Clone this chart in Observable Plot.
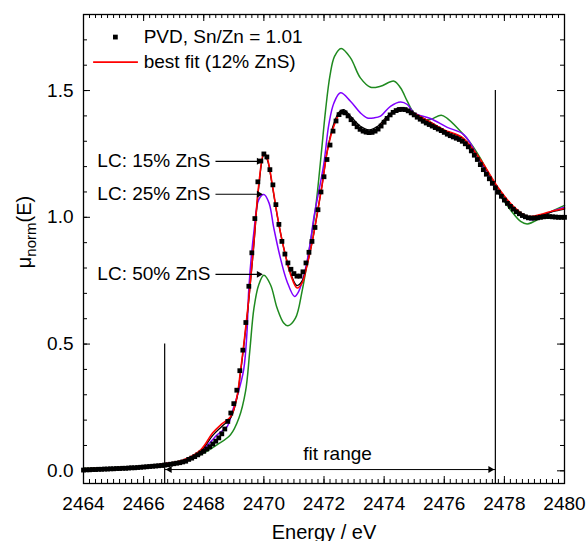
<!DOCTYPE html>
<html><head><meta charset="utf-8">
<script src="https://cdn.jsdelivr.net/npm/d3@7"></script>
<script src="https://cdn.jsdelivr.net/npm/@observablehq/plot@0.6"></script>
<style>body{margin:0;background:#fff;}</style>
</head><body><div id="chart"></div>
<script>
// ---- measured data (PVD, Sn/Zn = 1.01) ----
const pvdEnergy = [
2464.0,2464.1,2464.2,2464.3,2464.4,2464.5,2464.6,2464.7,2464.8,2464.9,
2465.0,2465.1,2465.2,2465.3,2465.4,2465.5,2465.6,2465.7,2465.8,2465.9,
2466.0,2466.1,2466.2,2466.3,2466.4,2466.5,2466.6,2466.7,2466.8,2466.9,
2467.0,2467.1,2467.2,2467.3,2467.4,2467.5,2467.6,2467.7,2467.8,2467.9,
2468.0,2468.1,2468.2,2468.3,2468.4,2468.5,2468.6,2468.7,2468.8,2468.9,
2469.0,2469.1,2469.2,2469.3,2469.4,2469.5,2469.6,2469.7,2469.8,2469.9,
2470.0,2470.1,2470.2,2470.3,2470.4,2470.5,2470.6,2470.7,2470.8,2470.9,
2471.0,2471.1,2471.2,2471.3,2471.4,2471.5,2471.6,2471.7,2471.8,2471.9,
2472.0,2472.1,2472.2,2472.3,2472.4,2472.5,2472.6,2472.7,2472.8,2472.9,
2473.0,2473.1,2473.2,2473.3,2473.4,2473.5,2473.6,2473.7,2473.8,2473.9,
2474.0,2474.1,2474.2,2474.3,2474.4,2474.5,2474.6,2474.7,2474.8,2474.9,
2475.0,2475.1,2475.2,2475.3,2475.4,2475.5,2475.6,2475.7,2475.8,2475.9,
2476.0,2476.1,2476.2,2476.3,2476.4,2476.5,2476.6,2476.7,2476.8,2476.9,
2477.0,2477.1,2477.2,2477.3,2477.4,2477.5,2477.6,2477.7,2477.8,2477.9,
2478.0,2478.1,2478.2,2478.3,2478.4,2478.5,2478.6,2478.7,2478.8,2478.9,
2479.0,2479.1,2479.2,2479.3,2479.4,2479.5,2479.6,2479.7,2479.8,2479.9,
2480.0];
const pvdMu = [
0.003,0.004,0.004,0.005,0.005,0.006,0.006,0.007,0.007,0.008,
0.008,0.009,0.009,0.010,0.010,0.011,0.012,0.012,0.013,0.014,
0.015,0.016,0.017,0.018,0.019,0.020,0.021,0.023,0.024,0.026,
0.028,0.030,0.032,0.035,0.038,0.045,0.050,0.056,0.063,0.070,
0.077,0.086,0.095,0.106,0.117,0.130,0.146,0.165,0.195,0.228,
0.265,0.318,0.395,0.476,0.585,0.728,0.860,0.995,1.140,1.222,
1.250,1.238,1.188,1.128,1.050,0.972,0.905,0.855,0.820,0.795,
0.778,0.768,0.768,0.785,0.820,0.862,0.905,0.960,1.030,1.100,
1.160,1.228,1.285,1.340,1.380,1.405,1.415,1.412,1.400,1.385,
1.370,1.357,1.347,1.340,1.336,1.334,1.335,1.340,1.348,1.360,
1.375,1.390,1.404,1.414,1.421,1.425,1.426,1.425,1.420,1.412,
1.404,1.395,1.387,1.379,1.372,1.366,1.360,1.354,1.348,1.342,
1.335,1.328,1.322,1.317,1.312,1.307,1.300,1.290,1.278,1.262,
1.245,1.228,1.208,1.188,1.170,1.152,1.134,1.116,1.099,1.083,
1.068,1.055,1.043,1.032,1.022,1.014,1.007,1.002,0.998,0.997,
0.997,0.998,1.000,1.002,1.003,1.003,1.002,1.001,1.000,1.000,
1.000];

// ---- best fit (12% ZnS) ----
const fitEnergy = [2464.0,2465.0,2466.0,2466.7,2467.3,2467.9,2468.3,2468.6,2468.9,2469.1,2469.22,2469.33,2469.5,2469.67,2469.83,2470.0,2470.11,2470.28,2470.44,2470.66,2470.89,2471.11,2471.27,2471.44,2471.61,2471.77,2471.94,2472.11,2472.3,2472.5,2472.65,2472.9,2473.2,2473.5,2473.8,2474.1,2474.5,2474.7,2475.0,2475.5,2476.0,2476.6,2477.2,2477.8,2478.3,2478.76,2479.2,2479.6,2480.0];
const fitMu     = [0.008,0.012,0.018,0.028,0.042,0.083,0.150,0.185,0.215,0.290,0.392,0.497,0.681,0.905,1.129,1.254,1.234,1.129,1.011,0.879,0.774,0.721,0.741,0.813,0.905,1.011,1.129,1.261,1.350,1.405,1.415,1.385,1.347,1.334,1.350,1.392,1.430,1.428,1.410,1.378,1.345,1.315,1.228,1.116,1.043,1.004,1.011,1.025,1.035];

// ---- linear combinations ----
const lc15Energy = [2464.0,2465.0,2466.0,2466.7,2467.3,2467.9,2468.3,2468.6,2468.9,2469.1,2469.22,2469.33,2469.5,2469.67,2469.83,2470.0,2470.11,2470.28,2470.44,2470.66,2470.89,2471.1,2471.27,2471.44,2471.61,2471.77,2471.94,2472.11,2472.3,2472.5,2472.65,2472.9,2473.2,2473.5,2473.8,2474.1,2474.5,2474.7,2475.0,2475.5,2476.0,2476.6,2477.2,2477.8,2478.3,2478.76,2479.2,2479.6,2480.0];
const lc15Mu     = [0.006,0.010,0.016,0.026,0.040,0.078,0.140,0.175,0.210,0.285,0.385,0.490,0.675,0.895,1.120,1.245,1.228,1.125,1.010,0.880,0.780,0.731,0.748,0.815,0.905,1.011,1.130,1.262,1.360,1.415,1.425,1.397,1.360,1.345,1.360,1.398,1.432,1.430,1.410,1.378,1.343,1.313,1.225,1.113,1.040,1.000,1.008,1.022,1.032];

const lc25Energy = [2464.0,2465.0,2466.0,2466.7,2467.3,2467.9,2468.45,2468.78,2468.95,2469.15,2469.33,2469.44,2469.5,2469.67,2469.83,2470.0,2470.17,2470.33,2470.55,2470.77,2471.02,2471.16,2471.39,2471.55,2471.66,2471.99,2472.16,2472.33,2472.55,2472.88,2473.21,2473.44,2473.66,2473.88,2474.21,2474.55,2474.77,2474.99,2475.54,2476.1,2476.65,2477.2,2477.76,2478.3,2478.87,2479.43,2480.0];
const lc25Mu     = [0.007,0.011,0.017,0.027,0.040,0.075,0.142,0.175,0.234,0.310,0.400,0.550,0.720,0.945,1.070,1.090,1.057,0.958,0.839,0.747,0.688,0.708,0.800,0.905,0.997,1.208,1.366,1.451,1.491,1.458,1.412,1.392,1.392,1.399,1.438,1.455,1.445,1.412,1.390,1.355,1.326,1.220,1.103,1.030,0.990,1.017,1.040];

const lc50Energy = [2464.0,2465.0,2466.0,2466.7,2467.3,2467.89,2468.45,2468.89,2469.17,2469.39,2469.53,2469.67,2469.83,2470.0,2470.22,2470.44,2470.66,2470.8,2471.05,2471.27,2471.5,2471.72,2471.9,2472.05,2472.2,2472.35,2472.57,2472.88,2473.21,2473.55,2473.88,2474.33,2474.55,2474.77,2474.99,2475.32,2475.54,2475.9,2476.1,2476.43,2476.87,2477.32,2477.76,2478.2,2478.54,2478.76,2479.2,2479.6,2480.0];
const lc50Mu     = [0.009,0.012,0.016,0.024,0.037,0.063,0.103,0.142,0.208,0.313,0.471,0.642,0.734,0.771,0.734,0.642,0.583,0.572,0.602,0.708,0.866,1.037,1.240,1.420,1.560,1.635,1.666,1.629,1.550,1.513,1.517,1.537,1.510,1.458,1.412,1.386,1.386,1.403,1.390,1.353,1.293,1.208,1.103,1.030,0.984,0.974,0.997,1.025,1.047];

// ---- axes ----
const xTickLabels = [2464,2466,2468,2470,2472,2474,2476,2478,2480];
const yTickLabels = [0.0,0.5,1.0,1.5];
const xMinorTicks = d3.range(2464, 2480.001, 0.2).map(v => +v.toFixed(1));
const yMinorTicks = d3.range(0, 1.8001, 0.1).map(v => +v.toFixed(1));
const xLabel = "Energy / eV";

// ---- annotations ----
const lcLabels = ["LC: 15% ZnS","LC: 25% ZnS","LC: 50% ZnS"];
const lcArrowY = [1.221, 1.091, 0.775];
const lcTextEndE = 2468.22, lcArrowStartE = 2468.39, lcArrowTipE = 2470.0;
const fitRangeE = [2466.7, 2477.7];
const fitRangeTop = [0.5, 1.5];
const fitRangeArrowY = 0.005;
const fitRangeLabel = "fit range";
const fitRangeLabelE = 2472.45, fitRangeLabelY = 0.068;
const legendLabels = ["PVD, Sn/Zn = 1.01", "best fit (12% ZnS)"];
const legendY = [1.711, 1.612];

const rows = (xs, ys) => xs.map((x, i) => ({x, y: ys[i]}));
const pvd = rows(pvdEnergy, pvdMu);
const fit = rows(fitEnergy, fitMu);
const lc15 = rows(lc15Energy, lc15Mu);
const lc25 = rows(lc25Energy, lc25Mu);
const lc50 = rows(lc50Energy, lc50Mu);

const W = 587, H = 541, mL = 83, mR = 23, mT = 14, mB = 58;
const pw = W - mL - mR, ph = H - mT - mB;
const RED = "#ff0000", PURPLE = "#8000ff", GREEN = "#1f8a1f";
const lc = {curve: "catmull-rom", x: "x", y: "y"};

const lcRows = lcLabels.map((t, i) => ({t, y: lcArrowY[i]}));

const chart = Plot.plot({
  width: W, height: H,
  marginLeft: mL, marginRight: mR, marginTop: mT, marginBottom: mB,
  style: {fontFamily: "'Liberation Sans', Arial, sans-serif", fontSize: "19px", color: "black", background: "white"},
  x: {domain: [2464, 2480]},
  y: {domain: [-0.05, 1.8]},
  marks: [
    // tick labels
    Plot.axisX({anchor: "bottom", ticks: xTickLabels, tickFormat: d => String(d), tickSize: 0, tickPadding: 13, label: null}),
    Plot.axisY({anchor: "left", ticks: yTickLabels, tickFormat: d => d.toFixed(1), tickSize: 0, tickPadding: 10, label: null}),
    // inward ticks
    Plot.tickX(xMinorTicks, {x: d => d, insetTop: ph - 4, stroke: "black"}),
    Plot.tickX(xMinorTicks, {x: d => d, insetBottom: ph - 4, stroke: "black"}),
    Plot.tickX(xTickLabels, {x: d => d, insetTop: ph - 7, stroke: "black"}),
    Plot.tickX(xTickLabels, {x: d => d, insetBottom: ph - 7, stroke: "black"}),
    Plot.tickY(yMinorTicks, {y: d => d, insetRight: pw - 4, stroke: "black"}),
    Plot.tickY(yMinorTicks, {y: d => d, insetLeft: pw - 4, stroke: "black"}),
    Plot.tickY(yTickLabels, {y: d => d, insetRight: pw - 7, stroke: "black"}),
    Plot.tickY(yTickLabels, {y: d => d, insetLeft: pw - 7, stroke: "black"}),
    // fit range markers
    Plot.ruleX(fitRangeE, {x: d => d, y1: -0.05, y2: (d, i) => fitRangeTop[i], stroke: "black", strokeWidth: 1.2}),
    Plot.link([0], {x1: fitRangeE[0], x2: fitRangeE[1], y1: fitRangeArrowY, y2: fitRangeArrowY, stroke: "black", strokeWidth: 1}),
    Plot.dot([0], {x: fitRangeE[0], y: fitRangeArrowY, symbol: "triangle2", rotate: -90, r: 3.3, dx: 5, fill: "black", stroke: "none"}),
    Plot.dot([0], {x: fitRangeE[1], y: fitRangeArrowY, symbol: "triangle2", rotate: 90, r: 3.3, dx: -5, fill: "black", stroke: "none"}),
    Plot.text([fitRangeLabel], {x: fitRangeLabelE, y: fitRangeLabelY, text: d => d, textAnchor: "middle", fill: "black"}),
    // curves
    Plot.line(lc50, {...lc, stroke: GREEN, strokeWidth: 1.5}),
    Plot.line(lc25, {...lc, stroke: PURPLE, strokeWidth: 1.5}),
    Plot.line(lc15, {...lc, stroke: "black", strokeWidth: 1.3}),
    Plot.line(fit, {...lc, stroke: RED, strokeWidth: 1.6}),
    Plot.dot(pvd, {x: "x", y: "y", symbol: "square", r: 2.7, fill: "black", stroke: "none"}),
    // LC annotations
    Plot.text(lcRows, {x: lcTextEndE, y: "y", text: "t", textAnchor: "end", fill: "black"}),
    Plot.link(lcRows, {x1: lcArrowStartE, x2: lcArrowTipE - 0.15, y1: "y", y2: "y", stroke: "black", strokeWidth: 1.2}),
    Plot.dot(lcRows, {x: lcArrowTipE, y: "y", symbol: "triangle2", rotate: 90, r: 3.3, dx: -5, fill: "black", stroke: "none"}),
    // legend
    Plot.dot([0], {x: 2465.06, y: legendY[0], symbol: "square", r: 2.7, fill: "black", stroke: "none"}),
    Plot.link([0], {x1: 2464.32, x2: 2465.81, y1: legendY[1], y2: legendY[1], stroke: RED, strokeWidth: 1.6}),
    Plot.text(legendLabels, {x: 2466.0, y: (d, i) => legendY[i], text: d => d, textAnchor: "start", fill: "black"}),
    // x axis title
    Plot.text([xLabel], {frameAnchor: "bottom", dy: 55, text: d => d, textAnchor: "middle", fill: "black", fontSize: 20}),
    Plot.frame({stroke: "black", strokeWidth: 1.3})
  ]
});

const svg = d3.select(chart);
const yl = svg.append("text")
  .attr("transform", "translate(31,232) rotate(-90)")
  .attr("text-anchor", "middle")
  .attr("font-size", 20)
  .attr("fill", "black");
yl.append("tspan").text("μ");
yl.append("tspan").attr("font-size", 15).attr("dy", 5).text("norm");
yl.append("tspan").attr("dy", -5).text("(E)");

document.getElementById("chart").appendChild(chart);
</script>
</body></html>
